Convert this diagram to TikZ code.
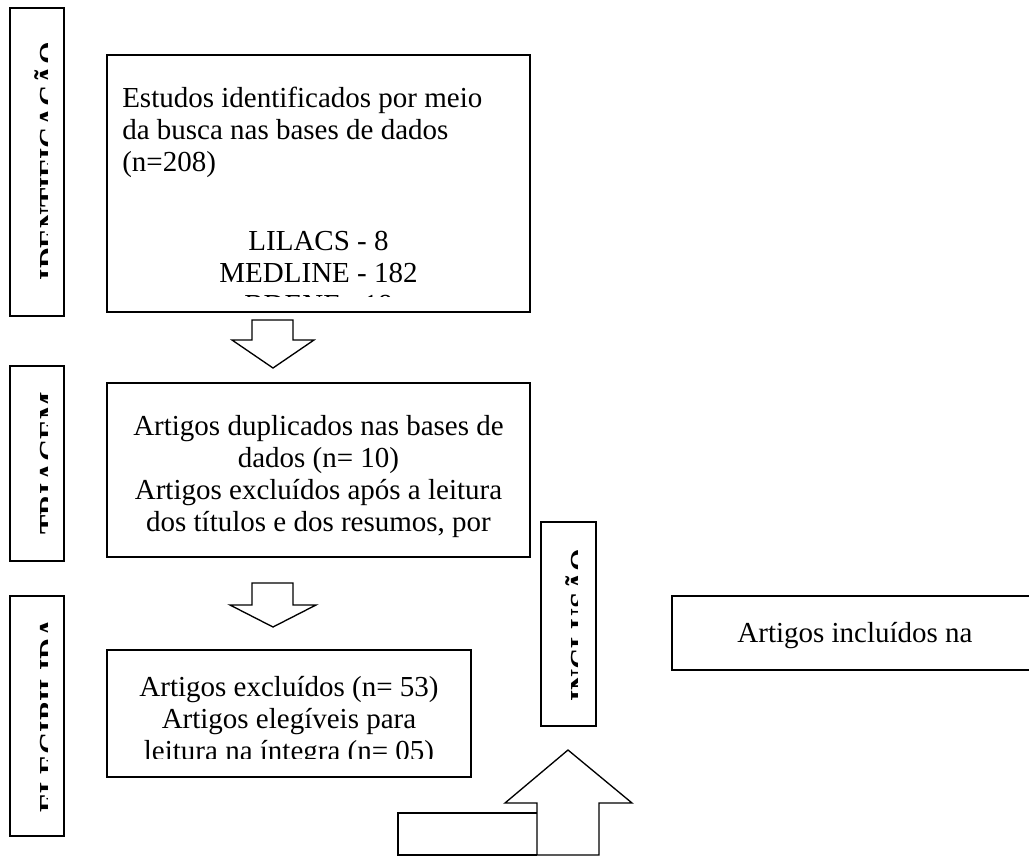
\documentclass[tikz,border=0pt]{standalone}
\usepackage{fontspec}
\setmainfont{Liberation Serif}
\usepackage{tikz}

\tikzset{
  frame/.style={line width=1.1pt},
  blockarrow/.style={line width=1pt},
  txt/.style={inner sep=0pt, font=\fontsize{21.75}{24}\selectfont},
  stage/.style={inner sep=0pt, rotate=90, anchor=base, font=\fontsize{21.75}{24}\selectfont\bfseries}
}

\begin{document}
\begin{tikzpicture}[x=0.75pt,y=0.75pt,yscale=-1,xscale=1]
\path[use as bounding box] (0,0) rectangle (1029,857);

%Shape: Rectangle [stage boxes]
\draw[frame] (10,8) rectangle (64,316);
\draw[frame] (10,366) rectangle (64,561);
\draw[frame] (10,596) rectangle (64,836);
\draw[frame] (541,522) rectangle (596,726);

% stage labels, cut by their text boxes
\begin{scope}
\clip (11,9) rectangle (47,315);
\node[stage] (identificacao) at (60,161) {IDENTIFICAÇÃO};
\end{scope}
\begin{scope}
\clip (11,367) rectangle (47,560);
\node[stage] (triagem) at (60,463.5) {TRIAGEM};
\end{scope}
\begin{scope}
\clip (11,617) rectangle (47,835);
\node[stage, anchor=base west] (elegibilidade) at (60,813) {ELEGIBILIDADE};
\end{scope}
\begin{scope}
\clip (542,523) rectangle (577,725);
\node[stage] (inclusao) at (590,625) {INCLUSÃO};
\end{scope}

%Shape: Rectangle [busca]
\draw[frame] (107,55) rectangle (530,312);
\begin{scope}
\clip (108,56) rectangle (529,296);
\node[txt, anchor=west, align=left] (estudos) at (122,132.5) {Estudos identificados por meio\\da busca nas bases de dados\\(n=208)};
\node[txt, align=center] (bases) at (318.5,273) {LILACS - 8\\MEDLINE - 182\\BDENF - 18};
\end{scope}

%Shape: Block Arrow
\draw[blockarrow] (252,320) -- (293,320) -- (293,340) -- (314,340) -- (273,368) -- (232,340) -- (252,340) -- cycle;

%Shape: Rectangle [triagem]
\draw[frame] (107,383) rectangle (530,557);
\node[txt, align=center] (duplicados) at (318.5,477) {Artigos duplicados nas bases de\\dados (n= 10)\\Artigos excluídos após a leitura\\dos títulos e dos resumos, por};

%Shape: Block Arrow
\draw[blockarrow] (252,583) -- (293,583) -- (293,605) -- (316,605) -- (273,627) -- (230,605) -- (252,605) -- cycle;

%Shape: Rectangle [elegibilidade]
\draw[frame] (107,650) rectangle (471,777);
\begin{scope}
\clip (108,651) rectangle (470,758);
\node[txt, align=center] (excluidos) at (289,721.5) {Artigos excluídos (n= 53)\\Artigos elegíveis para\\leitura na íntegra (n= 05)};
\end{scope}

%Shape: Rectangle [incluidos]
\draw[frame] (1029,596) -- (672,596) -- (672,670) -- (1029,670);
\node[txt] (incluidos) at (855,636) {Artigos incluídos na};

%Shape: Block Arrow up
\draw[blockarrow] (537,855) -- (537,803) -- (505,803) -- (568,750) -- (632,803) -- (599,803) -- (599,855) -- cycle;
%Shape: Rectangle
\draw[blockarrow] (537,855) -- (398,855) -- (398,813) -- (537,813);

\end{tikzpicture}
\end{document}
